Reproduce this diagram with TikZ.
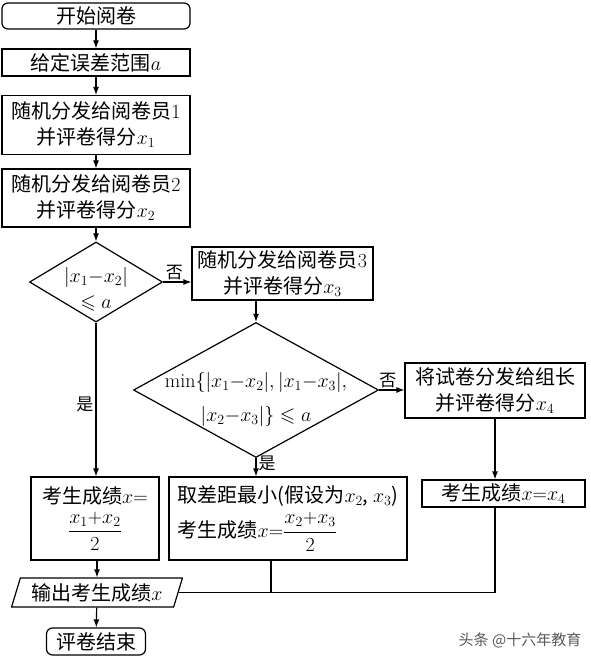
\RequirePackage{fix-cm}
\documentclass[tikz,border=0pt]{standalone}
\usepackage{amsmath,amssymb}
\usepackage{fontspec}
\newfontfamily\zh{Noto Sans CJK SC}
\usetikzlibrary{shapes.geometric,arrows.meta}
% text of a decision box, kept out of the shape's size
\newcommand\diatext[2]{\smash{\makebox[0pt]{\raisebox{#1}{\begin{tabular}{@{}c@{}}#2\end{tabular}}}}}
\tikzset{
  every node/.append style={font=\zh\fontsize{20}{26}\selectfont},
  procbox/.style={draw, rectangle, line width=1.2pt, inner sep=0pt, align=center},
  termbox/.style={procbox, rounded corners=6pt},
  decide/.style={draw, diamond, line width=1.2pt, inner sep=0pt},
  iobox/.style={draw, trapezium, trapezium left angle=68, trapezium right angle=112,
    trapezium stretches=true, line width=1.2pt, inner sep=0pt},
  flowline/.style={line width=1.2pt},
  flowarrow/.style={flowline, -{Latex[length=8pt,width=6pt]}},
  yesno/.style={font=\zh\fontsize{17}{20}\selectfont, inner sep=2pt},
}

\begin{document}
\begin{tikzpicture}[x=1pt,y=-1pt]
\useasboundingbox (0,0) rectangle (590,660);
% left column
\node[termbox, minimum width=188, minimum height=26] (start) at (96,16) {开始阅卷};
\node[procbox, minimum width=188, minimum height=27] (range) at (96,62.5) {给定误差范围$a$};
\node[procbox, minimum width=188, minimum height=59] (grade1) at (96,125) {随机分发给阅卷员$1$\\并评卷得分$x_1$};
\node[procbox, minimum width=188, minimum height=58] (grade2) at (96,198) {随机分发给阅卷员$2$\\并评卷得分$x_2$};
\node[decide, minimum width=133, minimum height=80] (check1) at (96,282)
  {\diatext{-13pt}{$\lvert x_1{-}x_2\rvert$\\$\leqslant a$}};
% third reader
\node[procbox, minimum width=181, minimum height=53] (grade3) at (282.5,273.5) {随机分发给阅卷员$3$\\并评卷得分$x_3$};
\node[decide, minimum width=245, minimum height=135] (check2) at (256,390)
  {\diatext{-14.5pt}{$\min\{\lvert x_1{-}x_2\rvert,\lvert x_1{-}x_3\rvert,$\\[8pt]$\lvert x_2{-}x_3\rvert\}\leqslant a$}};
\node[procbox, minimum width=180, minimum height=55] (leader) at (495,390.5) {将试卷分发给组长\\并评卷得分$x_4$};
% results
\node[procbox, minimum width=128, minimum height=83] (res1) at (95,518.5) {考生成绩$x{=}$\\[6pt]$\dfrac{x_1{+}x_2}{2}$};
\node[procbox, minimum width=238, minimum height=83, align=left] (res2) at (288,518.5) {取差距最小(假设为$x_2$, $x_3$)\\[5pt]考生成绩$x{=}\dfrac{x_2{+}x_3}{2}$};
\node[procbox, minimum width=163, minimum height=27] (res3) at (503.5,493.5) {考生成绩$x{=}x_4$};
% output and end
\node[iobox, minimum width=171, minimum height=29] (out) at (97,592.5) {输出考生成绩$x$};
\node[termbox, minimum width=99, minimum height=27] (stop) at (96,641.5) {评卷结束};
\node[font=\zh\fontsize{15}{18}\selectfont, text=black!65] (mark) at (520,640) {头条 @十六年教育};

\draw[flowarrow] (start) -- (range);
\draw[flowarrow] (range) -- (grade1);
\draw[flowarrow] (grade1) -- (grade2);
\draw[flowarrow] (grade2) -- (check1);
\draw[flowarrow] (check1.east) -- node[yesno, above, pos=0.4] {否} (check1.east -| grade3.west);
\draw[flowarrow] (check1.south) -- node[yesno, left, pos=0.53] {是} (check1.south |- res1.north);
\draw[flowarrow] (check2.north |- grade3.south) -- (check2.north);
\draw[flowarrow] (check2.east) -- node[yesno, above, pos=0.35] {否} (check2.east -| leader.west);
\draw[flowarrow] (check2.south) -- node[yesno, right, pos=0.3] {是} (check2.south |- res2.north);
\draw[flowarrow] (leader.south) -- (leader.south |- res3.north);
\draw[flowarrow] (res1.south -| out.north) -- (out.north);
\draw[flowarrow] (out) -- (stop);
\draw[flowline] (leader.south |- res3.south) |- (out.east);
\draw[flowline] ([xshift=-17pt]res2.south) coordinate (join) -- (join |- out.east);
\end{tikzpicture}
\end{document}
